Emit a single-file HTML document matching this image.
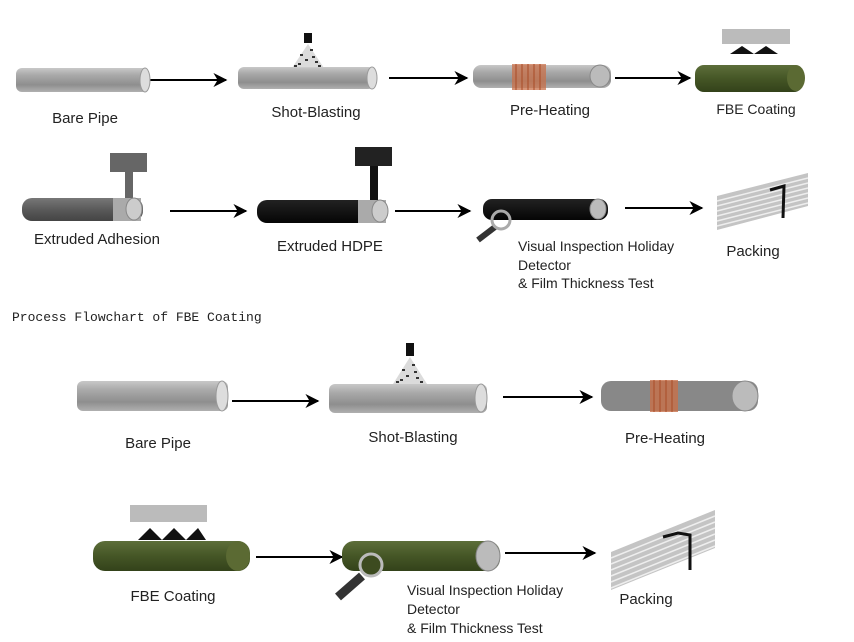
<!DOCTYPE html>
<html><head><meta charset="utf-8"><style>
html,body{margin:0;padding:0;background:#fff;}
svg{display:block}
text{font-family:"Liberation Sans",sans-serif;fill:#222;}
</style></head><body>
<svg width="854" height="642" viewBox="0 0 854 642" xmlns="http://www.w3.org/2000/svg">
<defs>
<linearGradient id="gr" x1="0" y1="0" x2="0" y2="1"><stop offset="0" stop-color="#c8c8c8"/><stop offset=".3" stop-color="#a9a9a9"/><stop offset=".7" stop-color="#8e8e8e"/><stop offset="1" stop-color="#b0b0b0"/></linearGradient>
<linearGradient id="gn" x1="0" y1="0" x2="0" y2="1"><stop offset="0" stop-color="#5d6e3a"/><stop offset=".5" stop-color="#455626"/><stop offset="1" stop-color="#33421a"/></linearGradient>
<linearGradient id="dk" x1="0" y1="0" x2="0" y2="1"><stop offset="0" stop-color="#777"/><stop offset=".5" stop-color="#5a5a5a"/><stop offset="1" stop-color="#444"/></linearGradient>
<linearGradient id="bk" x1="0" y1="0" x2="0" y2="1"><stop offset="0" stop-color="#222"/><stop offset="1" stop-color="#050505"/></linearGradient>
<marker id="ah" viewBox="0 0 10 10" refX="9" refY="5" markerWidth="7" markerHeight="7" orient="auto"><path d="M0,0 L10,5 L0,10 L3,5z" fill="#000"/></marker>
</defs>
<g stroke="#000" stroke-width="2" marker-end="url(#ah)">
<line x1="150" y1="80" x2="226" y2="80"/><line x1="389" y1="78" x2="467" y2="78"/><line x1="615" y1="78" x2="690" y2="78"/>
<line x1="170" y1="211" x2="246" y2="211"/><line x1="395" y1="211" x2="470" y2="211"/><line x1="625" y1="208" x2="702" y2="208"/>
<line x1="232" y1="401" x2="318" y2="401"/><line x1="503" y1="397" x2="592" y2="397"/>
<line x1="256" y1="557" x2="342" y2="557"/><line x1="505" y1="553" x2="595" y2="553"/>
</g>
<!-- row1 -->
<rect x="16" y="68" width="132" height="24" rx="6" fill="url(#gr)"/><ellipse cx="145" cy="80" rx="5" ry="12" fill="#ddd" stroke="#999"/>
<rect x="238" y="67" width="136" height="22" rx="6" fill="url(#gr)"/><ellipse cx="372" cy="78" rx="5" ry="11" fill="#ddd" stroke="#999"/>
<rect x="304" y="33" width="8" height="10" fill="#111"/><path d="M308,44 L292,68 L324,68z" fill="#ccc" opacity=".7"/>
<path d="M300,55h3M310,50h3M305,60h3M315,62h3M298,64h3M312,57h3M318,66h3M294,66h3" stroke="#333" stroke-width="2"/>
<rect x="473" y="65" width="138" height="23" rx="8" fill="url(#gr)"/><ellipse cx="600" cy="76" rx="10" ry="11" fill="#bbb" stroke="#888"/>
<rect x="512" y="64" width="34" height="26" fill="#c8704a" opacity=".75"/><path d="M516,64v26M522,64v26M528,64v26M534,64v26M540,64v26" stroke="#a84a25"/>
<rect x="695" y="65" width="108" height="27" rx="9" fill="url(#gn)"/><ellipse cx="796" cy="78" rx="9" ry="13" fill="#5b6a33"/>
<rect x="722" y="29" width="68" height="15" fill="#bbb"/><path d="M730,54 L742,46 L754,54 L766,46 L778,54z" fill="#111"/>
<text x="85" y="123" font-size="15" text-anchor="middle">Bare Pipe</text>
<text x="316" y="117" font-size="15" text-anchor="middle">Shot-Blasting</text>
<text x="550" y="115" font-size="15" text-anchor="middle">Pre-Heating</text>
<text x="756" y="114" font-size="14" text-anchor="middle">FBE Coating</text>
<!-- row2 -->
<rect x="110" y="153" width="37" height="19" fill="#666"/><rect x="125" y="172" width="8" height="28" fill="#666"/>
<rect x="22" y="198" width="121" height="23" rx="10" fill="url(#dk)"/><rect x="113" y="198" width="28" height="23" fill="#aaa"/><ellipse cx="134" cy="209" rx="8" ry="11" fill="#ccc" stroke="#888"/>
<rect x="355" y="147" width="37" height="19" fill="#222"/><rect x="370" y="166" width="8" height="34" fill="#111"/>
<rect x="257" y="200" width="131" height="23" rx="10" fill="url(#bk)"/><rect x="358" y="200" width="28" height="23" fill="#aaa"/><ellipse cx="380" cy="211" rx="8" ry="11" fill="#ccc" stroke="#888"/>
<rect x="483" y="199" width="125" height="21" rx="9" fill="url(#bk)"/><ellipse cx="598" cy="209" rx="8" ry="10" fill="#bbb" stroke="#888"/>
<line x1="495" y1="227" x2="478" y2="240" stroke="#333" stroke-width="6"/><circle cx="501" cy="220" r="9" fill="none" stroke="#aaa" stroke-width="3"/>
<text x="97" y="244" font-size="15" text-anchor="middle">Extruded Adhesion</text>
<text x="330" y="251" font-size="15" text-anchor="middle">Extruded HDPE</text>
<text x="518" y="251" font-size="14">Visual Inspection Holiday</text>
<text x="518" y="270" font-size="14">Detector</text>
<text x="518" y="288" font-size="14">&amp; Film Thickness Test</text>
<path d="M717,196 L808,173 L808,206 L717,230z" fill="#c4c4c4"/>
<g stroke="#eee" stroke-width="1.5"><path d="M717,201 L808,178M717,206 L808,183M717,211 L808,188M717,216 L808,193M717,221 L808,198M717,226 L808,203"/></g>
<path d="M770,190 L784,186 L783,218" stroke="#111" stroke-width="3" fill="none"/>
<text x="753" y="256" font-size="15" text-anchor="middle">Packing</text>
<text x="12" y="321" font-size="13" style="font-family:'Liberation Mono',monospace" fill="#444">Process Flowchart of FBE Coating</text>
<!-- row3 -->
<rect x="77" y="381" width="151" height="30" rx="6" fill="url(#gr)"/><ellipse cx="222" cy="396" rx="6" ry="15" fill="#ddd" stroke="#999"/>
<rect x="329" y="384" width="158" height="29" rx="6" fill="url(#gr)"/><ellipse cx="481" cy="398" rx="6" ry="14" fill="#ddd" stroke="#999"/>
<rect x="406" y="343" width="8" height="13" fill="#111"/><path d="M410,357 L393,384 L427,384z" fill="#ccc" opacity=".7"/>
<path d="M402,370h3M412,365h3M406,376h3M416,378h3M400,380h3M414,372h3M420,382h3M396,382h3" stroke="#333" stroke-width="2"/>
<rect x="601" y="381" width="157" height="30" rx="10" fill="#888"/><ellipse cx="745" cy="396" rx="13" ry="15" fill="#bbb" stroke="#888"/>
<rect x="650" y="380" width="28" height="32" fill="#c8704a" opacity=".8"/><path d="M654,380v32M660,380v32M666,380v32M672,380v32" stroke="#a84a25"/>
<text x="158" y="448" font-size="15" text-anchor="middle">Bare Pipe</text>
<text x="413" y="442" font-size="15" text-anchor="middle">Shot-Blasting</text>
<text x="665" y="443" font-size="15" text-anchor="middle">Pre-Heating</text>
<!-- row4 -->
<rect x="130" y="505" width="77" height="17" fill="#bbb"/><path d="M138,540 L150,528 L162,540 L174,528 L186,540 L198,528 L206,540z" fill="#111"/>
<rect x="93" y="541" width="157" height="30" rx="12" fill="url(#gn)"/><ellipse cx="238" cy="556" rx="12" ry="15" fill="#5b6a33"/>
<rect x="342" y="541" width="158" height="30" rx="12" fill="url(#gn)"/><ellipse cx="488" cy="556" rx="12" ry="15" fill="#bbb" stroke="#888"/>
<line x1="362" y1="576" x2="338" y2="597" stroke="#333" stroke-width="9"/><circle cx="371" cy="565" r="11" fill="#3d4b20" stroke="#bbb" stroke-width="3"/>
<text x="173" y="601" font-size="15" text-anchor="middle">FBE Coating</text>
<text x="407" y="595" font-size="14">Visual Inspection Holiday</text>
<text x="407" y="614" font-size="14">Detector</text>
<text x="407" y="633" font-size="14">&amp; Film Thickness Test</text>
<path d="M611,552 L715,510 L715,548 L611,590z" fill="#c4c4c4"/>
<g stroke="#eee" stroke-width="1.5"><path d="M611,558 L715,516M611,564 L715,522M611,570 L715,528M611,576 L715,534M611,582 L715,540M611,588 L715,546"/></g>
<path d="M663,537 L678,533 L690,535 L690,570" stroke="#111" stroke-width="3" fill="none"/>
<text x="646" y="604" font-size="15" text-anchor="middle">Packing</text>
</svg>
</body></html>
